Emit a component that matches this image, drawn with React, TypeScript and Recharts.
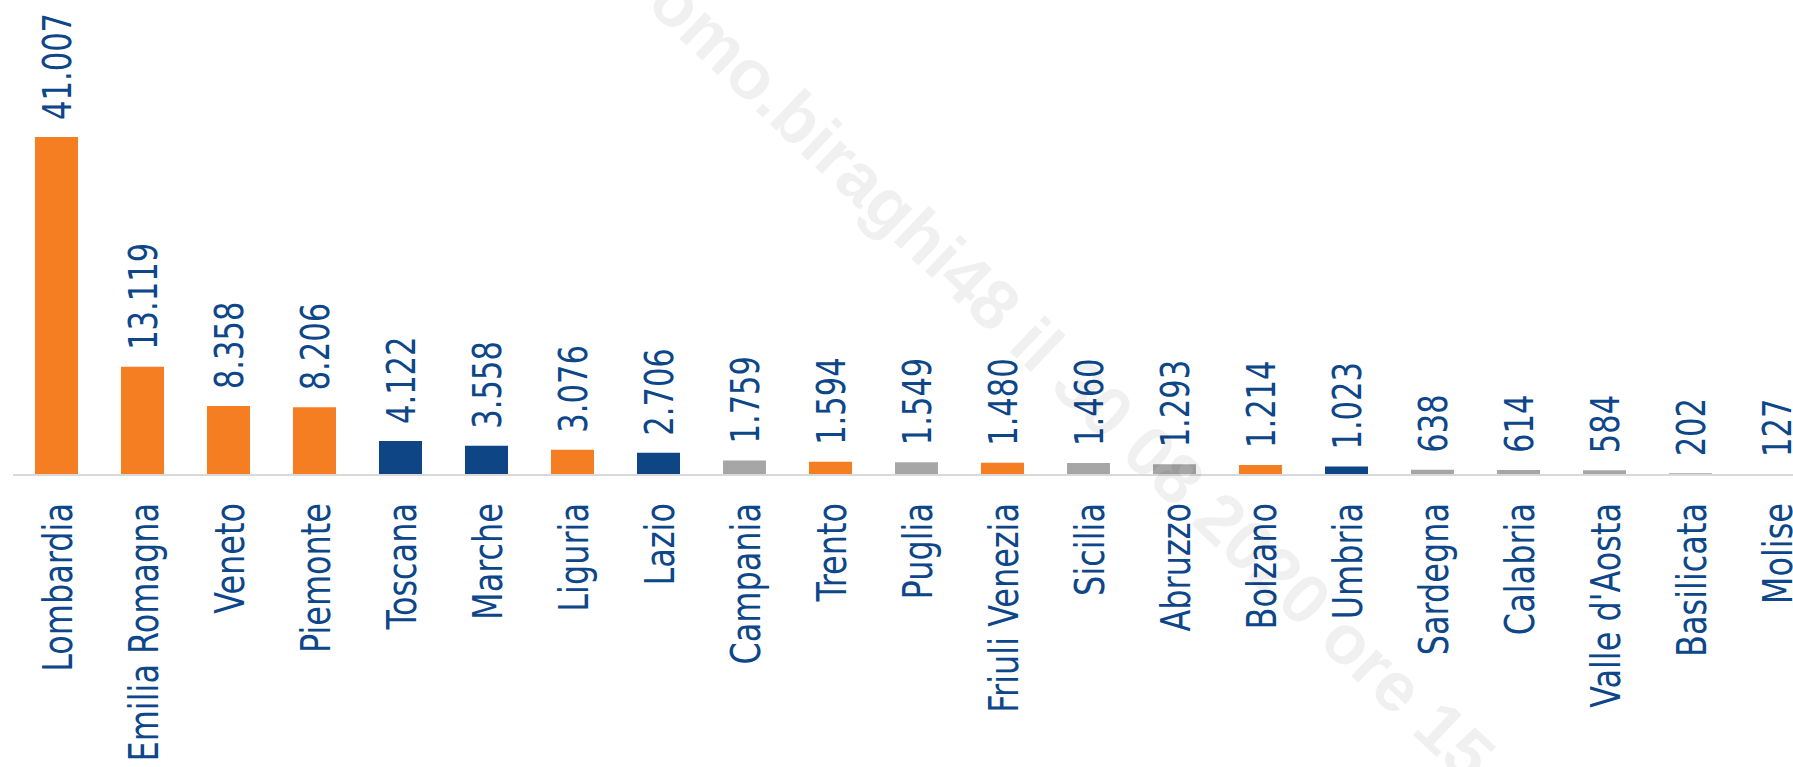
import React from 'react';
import { BarChart, Bar, XAxis, YAxis, Cell, LabelList } from 'recharts';

// regioni, in ordine di casi
const regioni = [
  'Lombardia', 'Emilia Romagna', 'Veneto', 'Piemonte', 'Toscana', 'Marche', 'Liguria',
  'Lazio', 'Campania', 'Trento', 'Puglia', 'Friuli Venezia', 'Sicilia', 'Abruzzo',
  'Bolzano', 'Umbria', 'Sardegna', 'Calabria', "Valle d'Aosta", 'Basilicata', 'Molise',
];

const casi = [
  41007, 13119, 8358, 8206, 4122, 3558, 3076,
  2706, 1759, 1594, 1549, 1480, 1460, 1293,
  1214, 1023, 638, 614, 584, 202, 127,
];

// area geografica di ogni regione
const aree = [
  'nord', 'nord', 'nord', 'nord', 'centro', 'centro', 'nord',
  'centro', 'sud', 'nord', 'sud', 'nord', 'sud', 'sud',
  'nord', 'centro', 'sud', 'sud', 'sud', 'sud', 'nord',
];

const yDomain = [0, 45000];

const colori: Record<string, string> = {
  nord: '#f47e21',
  centro: '#0e4585',
  sud: '#a6a6a6',
};

const BLU = '#0d4689';
const FONT = '"DejaVu Sans Condensed", "DejaVu Sans", sans-serif';

const data = regioni.map((nome, i) => ({ nome, casi: casi[i], area: aree[i] }));

const fmt = (v: number) => String(v).replace(/\B(?=(\d{3})+(?!\d))/g, '.');

// testo verticale, un po' allargato come nell'originale
const VText = ({ x, y, anchor, size, children }: any) => (
  <text
    x={0}
    y={0}
    dy="0.38em"
    transform={`translate(${x}, ${y}) scale(1.15, 1) rotate(-90)`}
    textAnchor={anchor}
    fill={BLU}
    fontFamily={FONT}
    fontSize={size}
  >
    {children}
  </text>
);

const CategoryTick = (props: any) => {
  const { x, y, payload } = props;
  return (
    <VText x={x} y={y + 28} anchor="end" size={35.5}>
      {payload.value}
    </VText>
  );
};

const ValueLabel = (props: any) => {
  const { x, y, width, value } = props;
  return (
    <VText x={x + width / 2} y={y - 17} anchor="start" size={34}>
      {fmt(value)}
    </VText>
  );
};

export default function App() {
  return (
    <div
      style={{
        position: 'absolute',
        left: 0,
        top: 0,
        width: 1793,
        height: 767,
        overflow: 'hidden',
        background: '#fff',
      }}
    >
      <BarChart
        width={1820}
        height={767}
        data={data}
        margin={{ top: 104, right: 1, left: 13, bottom: 0 }}
      >
        <XAxis
          dataKey="nome"
          interval={0}
          height={292}
          tickSize={0}
          tickMargin={0}
          axisLine={{ stroke: '#d9d9d9', strokeWidth: 2 }}
          tickLine={false}
          tick={<CategoryTick />}
        />
        <YAxis hide domain={yDomain} />
        <Bar dataKey="casi" barSize={43} isAnimationActive={false}>
          {data.map((d) => (
            <Cell key={d.nome} fill={colori[d.area]} />
          ))}
          <LabelList dataKey="casi" content={<ValueLabel />} />
        </Bar>
      </BarChart>
      <svg
        width={1793}
        height={767}
        style={{ position: 'absolute', left: 0, top: 0, pointerEvents: 'none' }}
      >
        <text
          x={645}
          y={6}
          transform="rotate(43.5, 645, 6)"
          fontFamily='"Liberation Sans", Arial, sans-serif'
          fontWeight="bold"
          fontSize={70}
          fill="#000"
          fillOpacity={0.06}
        >
          omo.biraghi48 il 30 08 2020 ore 15
        </text>
      </svg>
    </div>
  );
}
